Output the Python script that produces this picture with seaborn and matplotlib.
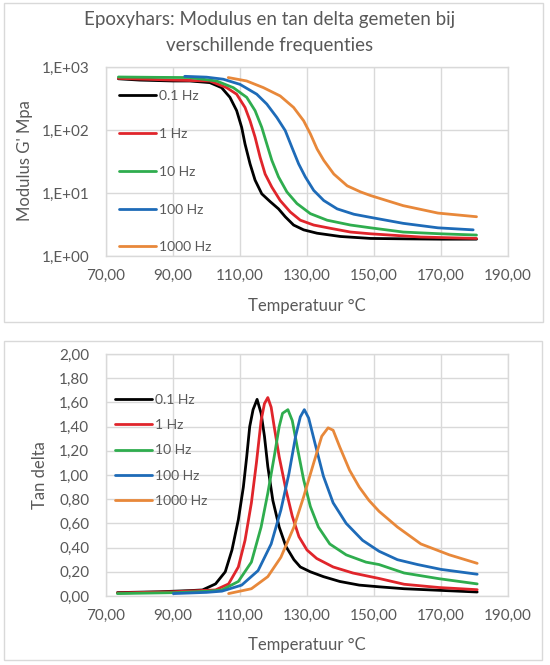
import numpy as np
import pandas as pd
import matplotlib
matplotlib.use("Agg")
import matplotlib.pyplot as plt
import seaborn as sns
from matplotlib.patches import Rectangle

# ---------------- data ----------------
freqs = ["0.1 Hz", "1 Hz", "10 Hz", "100 Hz", "1000 Hz"]
colors = ["#000000", "#e0252b", "#2fad4e", "#1e6bb8", "#e8883a"]

# Modulus G' (MPa) vs temperature
mod_t_01 = [73.7, 80, 90, 95, 101, 104.5, 107, 109, 110.5, 111.5, 113, 114.5, 116.5, 119, 121.5, 123.5, 126, 129, 133, 140, 149, 160, 170, 180.6]
mod_g_01 = [650, 620, 600, 600, 565, 470, 330, 203, 110, 60, 29, 16, 9.7, 7.3, 5.6, 4.2, 3.1, 2.6, 2.3, 2.04, 1.9, 1.87, 1.85, 1.85]
mod_t_1 = [73.7, 90, 101, 106, 109, 111.5, 113, 114.5, 116, 117.5, 119.5, 122, 125, 128, 132, 137, 143, 149, 164, 180.6]
mod_g_1 = [660, 620, 600, 470, 370, 228, 140, 77, 37, 20, 12.4, 7.6, 5.0, 3.7, 3.1, 2.75, 2.4, 2.25, 2.0, 1.9]
mod_t_10 = [73.7, 85, 95, 103, 108, 112, 114.5, 116.5, 118, 119.5, 121.5, 124, 127, 131, 136, 143, 149, 158.7, 170, 180.6]
mod_g_10 = [694, 685, 680, 600, 470, 330, 203, 110, 60, 33, 18, 10.4, 6.8, 4.7, 3.7, 3.1, 2.8, 2.4, 2.25, 2.15]
mod_t_100 = [93.5, 100, 105, 110, 115, 118, 121, 123.5, 125.5, 127.5, 129.5, 132, 135, 139, 144, 149, 158.7, 169.1, 179.6]
mod_g_100 = [711, 690, 640, 530, 370, 258, 158, 98, 53, 29, 18, 11, 7.6, 5.6, 4.6, 4.1, 3.3, 2.8, 2.6]
mod_t_1000 = [106.5, 112, 117, 122, 126, 129, 131, 133, 135, 138, 142, 146, 149, 158.7, 169.1, 180.6]
mod_g_1000 = [680, 600, 470, 347, 228, 140, 87, 50, 33, 20, 13, 10.4, 9.1, 6.3, 4.8, 4.2]

# Tan delta vs temperature
tan_t_01 = [73.4, 86, 95.3, 98.8, 102.7, 105.6, 107.6, 109.5, 111, 112, 112.9, 113.9, 115.1, 116.3, 117.3, 118.3, 119.8, 121.7, 123.7, 126.1, 128, 131, 134.9, 139.8, 145.6, 151.5, 159, 169.4, 180.8]
tan_v_01 = [0.028, 0.035, 0.045, 0.05, 0.10, 0.20, 0.38, 0.63, 0.90, 1.15, 1.40, 1.54, 1.625, 1.51, 1.32, 1.07, 0.79, 0.57, 0.41, 0.30, 0.24, 0.20, 0.16, 0.12, 0.09, 0.076, 0.06, 0.047, 0.033]
tan_t_1 = [73.4, 90, 102.7, 106.6, 109.5, 111.5, 113.4, 114.9, 116.3, 117.3, 118.3, 119.3, 120.2, 121.7, 123.7, 125.6, 127.6, 130, 132.9, 137.8, 143.7, 151.5, 159, 169.4, 180.8]
tan_v_1 = [0.025, 0.035, 0.05, 0.10, 0.24, 0.46, 0.77, 1.10, 1.45, 1.59, 1.64, 1.56, 1.40, 1.15, 0.88, 0.66, 0.49, 0.38, 0.31, 0.24, 0.19, 0.145, 0.097, 0.07, 0.052]
tan_t_10 = [73.4, 91.2, 101, 104.6, 109.5, 113.4, 116.3, 118.3, 120.2, 121.7, 122.7, 124.3, 125.6, 127.1, 129, 131, 133.4, 136.8, 141.7, 147.6, 151.5, 159, 169.4, 180.8]
tan_v_10 = [0.02, 0.028, 0.04, 0.05, 0.12, 0.28, 0.57, 0.85, 1.15, 1.40, 1.51, 1.54, 1.45, 1.23, 0.96, 0.74, 0.57, 0.43, 0.34, 0.28, 0.26, 0.19, 0.143, 0.10]
tan_t_100 = [90.1, 100, 104.6, 110.5, 115.4, 119.3, 122.2, 124.6, 126.6, 128, 129.2, 130.5, 132.4, 134.9, 137.8, 141.7, 146.6, 151.5, 157, 163, 170, 180.8]
tan_v_100 = [0.02, 0.03, 0.04, 0.09, 0.21, 0.43, 0.71, 1.01, 1.32, 1.48, 1.54, 1.47, 1.26, 0.99, 0.77, 0.60, 0.46, 0.37, 0.30, 0.26, 0.22, 0.18]
tan_t_1000 = [106.6, 113.4, 118.3, 122.2, 126.1, 129, 132, 134.4, 136.3, 137.8, 139.8, 142.7, 145.6, 148.5, 151.5, 157, 164, 172.5, 180.8]
tan_v_1000 = [0.02, 0.06, 0.16, 0.32, 0.57, 0.82, 1.10, 1.32, 1.39, 1.37, 1.23, 1.04, 0.90, 0.79, 0.70, 0.57, 0.43, 0.34, 0.27]

x_ticks = [70, 90, 110, 130, 150, 170, 190]
x_tick_labels = ["70,00", "90,00", "110,00", "130,00", "150,00", "170,00", "190,00"]
mod_ticks = [1, 10, 100, 1000]
mod_tick_labels = ["1,E+00", "1,E+01", "1,E+02", "1,E+03"]
tan_ticks = [0.0, 0.2, 0.4, 0.6, 0.8, 1.0, 1.2, 1.4, 1.6, 1.8, 2.0]
tan_tick_labels = ["0,00", "0,20", "0,40", "0,60", "0,80", "1,00", "1,20", "1,40", "1,60", "1,80", "2,00"]

title_lines = ["Epoxyhars: Modulus en tan delta gemeten bij", "verschillende frequenties"]
xlabel = "Temperatuur °C"
ylabel_mod = "Modulus G' Mpa"
ylabel_tan = "Tan delta"

# ---------------- frames ----------------
mod_df = pd.concat([
    pd.DataFrame({"T": t, "v": v, "freq": f})
    for t, v, f in zip([mod_t_01, mod_t_1, mod_t_10, mod_t_100, mod_t_1000],
                       [mod_g_01, mod_g_1, mod_g_10, mod_g_100, mod_g_1000], freqs)
], ignore_index=True)
tan_df = pd.concat([
    pd.DataFrame({"T": t, "v": v, "freq": f})
    for t, v, f in zip([tan_t_01, tan_t_1, tan_t_10, tan_t_100, tan_t_1000],
                       [tan_v_01, tan_v_1, tan_v_10, tan_v_100, tan_v_1000], freqs)
], ignore_index=True)

# ---------------- style ----------------
sns.set_style("white")
plt.rcParams["font.family"] = ["Lato", "DejaVu Sans"]
TXT = "#595959"
GRID = "#d9d9d9"

W, H = 550, 665
fig = plt.figure(figsize=(W / 100, H / 100), dpi=100)

def fx(px):
    return px / W

def fy(py):
    return 1 - py / H

# panel borders
for (x0, y0, x1, y1) in [(4, 3, 543, 322), (4, 341, 542, 660)]:
    fig.patches.append(Rectangle((fx(x0), fy(y1)), fx(x1 - x0), (y1 - y0) / H,
                                 transform=fig.transFigure, fill=False,
                                 edgecolor=GRID, linewidth=1.0))

ax1 = fig.add_axes([fx(106), fy(256), fx(402), 189 / H])
ax2 = fig.add_axes([fx(106), fy(596), fx(402), 242 / H])

palette = dict(zip(freqs, colors))
sns.lineplot(data=mod_df, x="T", y="v", hue="freq", hue_order=freqs, palette=palette,
             ax=ax1, linewidth=2.0, sort=False, estimator=None)
sns.lineplot(data=tan_df, x="T", y="v", hue="freq", hue_order=freqs, palette=palette,
             ax=ax2, linewidth=2.0, sort=False, estimator=None)

ax1.set_yscale("log")
ax1.set_ylim(1, 1000)
ax1.set_yticks(mod_ticks, mod_tick_labels)
ax1.yaxis.set_minor_locator(matplotlib.ticker.NullLocator())
ax2.set_ylim(0, 2)
ax2.set_yticks(tan_ticks, tan_tick_labels)

for ax in (ax1, ax2):
    ax.set_xlim(70, 190)
    ax.set_xticks(x_ticks, x_tick_labels)
    ax.set_xlabel("")
    ax.set_ylabel("")
    ax.grid(True, color=GRID, linewidth=1.0)
    ax.set_axisbelow(True)
    for s in ax.spines.values():
        s.set_color(GRID)
        s.set_linewidth(1.0)
    ax.tick_params(axis="both", length=0, labelsize=11, labelcolor=TXT)
    ax.tick_params(axis="y", pad=12)
    ax.tick_params(axis="x", pad=9)

leg1 = ax1.legend(loc="upper left", bbox_to_anchor=((119 - 106) / 402, 1 - (90 - 67) / 189),
                  frameon=False, fontsize=10, handlelength=2.65, handletextpad=0.25,
                  labelspacing=1.86, borderpad=0, borderaxespad=0)
leg2 = ax2.legend(loc="upper left", bbox_to_anchor=((115 - 106) / 402, 1 - (394 - 354) / 242),
                  frameon=False, fontsize=10, handlelength=2.65, handletextpad=0.25,
                  labelspacing=0.95, borderpad=0, borderaxespad=0)
for leg in (leg1, leg2):
    for t in leg.get_texts():
        t.set_color(TXT)
    for l in leg.get_lines():
        l.set_linewidth(2.0)

# titles and labels
fig.text(fx(270), fy(20), title_lines[0], ha="center", va="center", fontsize=13.5, color=TXT)
fig.text(fx(270), fy(45), title_lines[1], ha="center", va="center", fontsize=13.5, color=TXT)
fig.text(fx(25), fy(161), ylabel_mod, ha="center", va="center", rotation=90, fontsize=12, color=TXT)
fig.text(fx(40), fy(475), ylabel_tan, ha="center", va="center", rotation=90, fontsize=12, color=TXT)
fig.text(fx(307), fy(306), xlabel, ha="center", va="center", fontsize=12, color=TXT)
fig.text(fx(307), fy(645), xlabel, ha="center", va="center", fontsize=12, color=TXT)

fig.savefig("out.png", dpi=100)
